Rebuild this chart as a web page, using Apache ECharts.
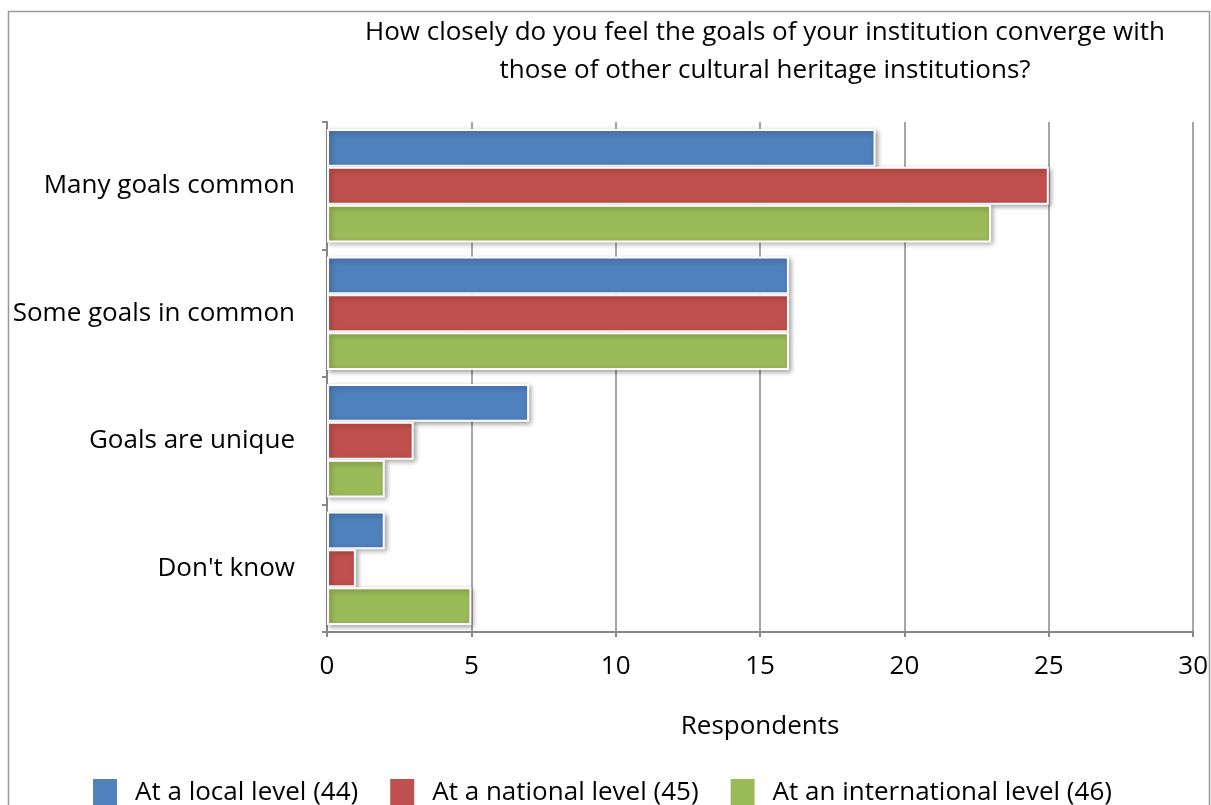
<!DOCTYPE html>
<html><head><meta charset="utf-8">
<script src="https://cdn.jsdelivr.net/npm/echarts@6/dist/echarts.min.js"></script>
<style>html,body{margin:0;padding:0;background:#fff}#c{width:1211px;height:805px}</style>
</head><body><div id="c"></div>
<script>
const categories = ["Many goals common", "Some goals in common", "Goals are unique", "Don't know"];
const seriesNames = ["At a local level (44)", "At a national level (45)", "At an international level (46)"];
const localVals = [19, 16, 7, 2];
const nationalVals = [25, 16, 3, 1];
const internationalVals = [23, 16, 2, 5];
const xTicks = [0, 5, 10, 15, 20, 25, 30];
const colors = ["#4F81BD", "#C0504D", "#9BBB59"];
const font = "'Open Sans', 'Liberation Sans', sans-serif";

const chart = echarts.init(document.getElementById('c'));
const mk = (name, data, color) => ({
  name, type: 'bar', data, barGap: '0%', barCategoryGap: '11%',
  itemStyle: { color, borderColor: '#fff', borderWidth: 2,
    shadowColor: 'rgba(0,0,0,0.35)', shadowBlur: 5, shadowOffsetX: 2, shadowOffsetY: 2 }
});
chart.setOption({
  animation: false,
  textStyle: { fontFamily: font },
  title: {
    text: 'How closely do you feel the goals of your institution converge with\nthose of other cultural heritage institutions?',
    left: 760, top: 9, textAlign: 'center',
    textStyle: { fontFamily: font, fontSize: 26, fontWeight: 'normal', color: '#000', lineHeight: 38 }
  },
  graphic: [{ type: 'rect', shape: { x: 8.5, y: 11.5, width: 1201, height: 830 },
    style: { fill: 'none', stroke: '#999', lineWidth: 1.5 }, silent: true }],
  legend: {
    bottom: -8, left: 86, itemWidth: 26, itemHeight: 29, itemGap: 30,
    icon: 'rect',
    textStyle: { fontFamily: font, fontSize: 26, color: '#000', padding: [0, 0, 0, 12] },
    data: seriesNames
  },
  grid: { left: 327, right: 17, top: 122, bottom: 173 },
  xAxis: {
    type: 'value', min: xTicks[0], max: xTicks[xTicks.length - 1], interval: 5,
    name: 'Respondents', nameLocation: 'middle', nameGap: 82,
    nameTextStyle: { fontFamily: font, fontSize: 26, color: '#000' },
    axisLine: { show: true, lineStyle: { color: '#888', width: 2 } },
    axisTick: { show: true, length: 5, lineStyle: { color: '#888', width: 2 } },
    axisLabel: { fontFamily: font, fontSize: 26, color: '#000', margin: 22 },
    splitLine: { show: true, lineStyle: { color: '#888', width: 1.5 } }
  },
  yAxis: {
    type: 'category', data: categories, inverse: true,
    axisLine: { show: true, lineStyle: { color: '#888', width: 2 } },
    axisTick: { show: true, length: 5, lineStyle: { color: '#888', width: 2 } },
    axisLabel: { fontFamily: font, fontSize: 26, color: '#000', margin: 32 }
  },
  series: [
    mk(seriesNames[0], localVals, colors[0]),
    mk(seriesNames[1], nationalVals, colors[1]),
    mk(seriesNames[2], internationalVals, colors[2])
  ]
});
</script></body></html>
